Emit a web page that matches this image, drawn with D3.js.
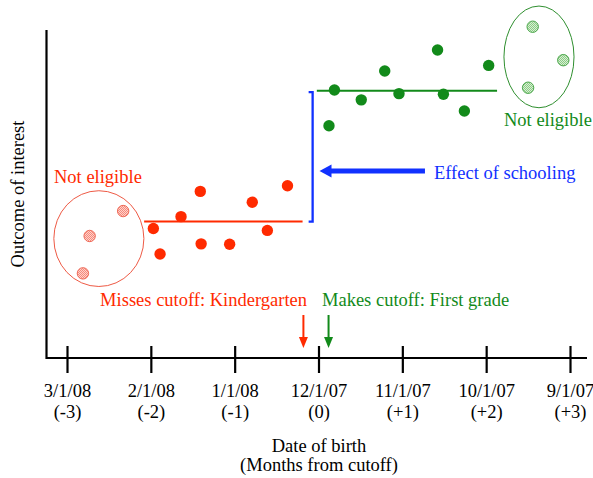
<!DOCTYPE html>
<html>
<head>
<meta charset="utf-8">
<script src="https://cdn.jsdelivr.net/npm/d3@7/dist/d3.min.js"></script>
<style>
  html, body { margin: 0; padding: 0; background: #ffffff; }
  svg { display: block; }
  text { font-family: "Liberation Serif", "Times New Roman", serif; font-size: 18.5px; }
</style>
</head>
<body>
<svg id="chart" width="593" height="478"></svg>
<script>
// ---- Data (months from cutoff, outcome value) ----
const monthTicks = [-3, -2, -1, 0, 1, 2, 3];
const dateLabels = ["3/1/08", "2/1/08", "1/1/08", "12/1/07", "11/1/07", "10/1/07", "9/1/07"];
const offsetLabels = ["(-3)", "(-2)", "(-1)", "(0)", "(+1)", "(+2)", "(+3)"];

// Kindergarten (missed cutoff) – eligible observations
const redMonths = [-1.97, -1.89, -1.64, -1.41, -1.40, -1.06, -0.79, -0.61, -0.37];
const redValues = [39.5, 31.7, 43.1, 50.8, 34.8, 34.7, 47.5, 38.9, 52.5];
// Kindergarten – not eligible
const redOutMonths = [-2.33, -2.73, -2.81];
const redOutValues = [44.8, 37.2, 25.8];
const redMean = 41.6;
const redSpan = [-2.08, -0.19];

// First grade (made cutoff) – eligible observations
const greenMonths = [0.125, 0.19, 0.51, 0.79, 0.96, 1.42, 1.49, 1.74, 2.03];
const greenValues = [70.8, 81.7, 78.7, 87.5, 80.6, 93.9, 80.4, 75.3, 89.2];
// First grade – not eligible
const greenOutMonths = [2.555, 2.92, 2.50];
const greenOutValues = [101.0, 90.8, 82.4];
const greenMean = 81.5;
const greenSpan = [-0.02, 2.13];

// Annotation ellipses: [centerMonth, centerValue, radiusMonths, radiusValue]
const redEllipse = [-2.62, 36.4, 0.537, 14.6];
const greenEllipse = [2.63, 91.8, 0.418, 15.5];

// Effect of schooling arrow (month from, month to, value)
const effectArrow = [1.27, 0.012, 57.0];
const bracketMonth = -0.07;

const RED = "#ff2a00", GREEN = "#128a1a", BLUE = "#1131ff";

// ---- Scales ----
const svg = d3.select("#chart");
const x = d3.scaleLinear().domain([-3, 3]).range([67, 570]);
const y = d3.scaleLinear().domain([0, 100]).range([358, 30]);

// ---- Patterns for hatched points ----
const defs = svg.append("defs");
function hatch(id, bg, fg) {
  const p = defs.append("pattern").attr("id", id).attr("patternUnits", "userSpaceOnUse")
    .attr("width", 2).attr("height", 2);
  p.append("rect").attr("width", 2).attr("height", 2).attr("fill", bg);
  p.append("rect").attr("width", 1).attr("height", 1).attr("fill", fg);
  p.append("rect").attr("x", 1).attr("y", 1).attr("width", 1).attr("height", 1).attr("fill", fg);
}
hatch("hatchRed", "#ffd2cb", "#f58a7c");
hatch("hatchGreen", "#d8efd4", "#8ccc86");

// ---- Axes ----
svg.append("line").attr("x1", 46.5).attr("x2", 46.5).attr("y1", y(100)).attr("y2", y(0) + 1)
  .attr("stroke", "#000").attr("stroke-width", 2.2);
svg.append("line").attr("x1", 46).attr("x2", 587).attr("y1", y(0)).attr("y2", y(0))
  .attr("stroke", "#000").attr("stroke-width", 2.2);

const xAxis = svg.append("g").attr("transform", `translate(0,${y(0)})`)
  .call(d3.axisBottom(x).tickValues(monthTicks).tickSize(15).tickFormat(""));
xAxis.select(".domain").remove();
xAxis.selectAll(".tick line").attr("y1", -12).attr("stroke", "#000").attr("stroke-width", 2.2);
xAxis.selectAll(".tick").each(function (d, i) {
  const g = d3.select(this);
  g.append("text").attr("y", 39).attr("text-anchor", "middle").attr("fill", "#000").text(dateLabels[i]);
  g.append("text").attr("y", 60).attr("text-anchor", "middle").attr("fill", "#000").text(offsetLabels[i]);
});

svg.append("text").attr("x", 319).attr("y", 452).attr("text-anchor", "middle").text("Date of birth");
svg.append("text").attr("x", 319).attr("y", 471).attr("text-anchor", "middle").text("(Months from cutoff)");
svg.append("text").attr("transform", "translate(24,194) rotate(-90)").attr("text-anchor", "middle")
  .text("Outcome of interest");

// ---- Ellipses ----
function ellipse(e, color) {
  svg.append("ellipse").attr("cx", x(e[0])).attr("cy", y(e[1]))
    .attr("rx", x(e[2]) - x(0)).attr("ry", y(0) - y(e[3]))
    .attr("fill", "none").attr("stroke", color).attr("stroke-width", 1);
}
ellipse(redEllipse, "#ee5a45");
ellipse(greenEllipse, "#2f8f2f");

// ---- Mean lines ----
svg.append("line").attr("x1", x(redSpan[0])).attr("x2", x(redSpan[1]))
  .attr("y1", y(redMean)).attr("y2", y(redMean)).attr("stroke", RED).attr("stroke-width", 2);
svg.append("line").attr("x1", x(greenSpan[0])).attr("x2", x(greenSpan[1]))
  .attr("y1", y(greenMean)).attr("y2", y(greenMean)).attr("stroke", GREEN).attr("stroke-width", 2);

// ---- Bracket (effect size) ----
const bx = x(bracketMonth);
svg.append("path")
  .attr("d", `M${bx - 4},${y(greenMean) + 1.5}H${bx}V${y(redMean)}H${bx - 4}`)
  .attr("fill", "none").attr("stroke", BLUE).attr("stroke-width", 2.3);

// ---- Points ----
function dots(ms, vs, fill, stroke) {
  svg.append("g").selectAll("circle").data(ms).join("circle")
    .attr("cx", d => x(d)).attr("cy", (d, i) => y(vs[i])).attr("r", 5.7)
    .attr("fill", fill).attr("stroke", stroke || "none").attr("stroke-width", 1);
}
dots(redMonths, redValues, RED);
dots(greenMonths, greenValues, GREEN);
dots(redOutMonths, redOutValues, "url(#hatchRed)", "#ef6a58");
dots(greenOutMonths, greenOutValues, "url(#hatchGreen)", "#4aa64a");

// ---- Effect of schooling arrow ----
const ay = y(effectArrow[2]);
const ax0 = x(effectArrow[0]), ax1 = x(effectArrow[1]);
svg.append("line").attr("x1", ax0).attr("x2", ax1 + 10).attr("y1", ay).attr("y2", ay)
  .attr("stroke", BLUE).attr("stroke-width", 5);
svg.append("path").attr("d", `M${ax1},${ay}L${ax1 + 12},${ay - 6.5}L${ax1 + 12},${ay + 6.5}Z`).attr("fill", BLUE);
svg.append("text").attr("x", ax0 + 9).attr("y", ay + 8).attr("fill", BLUE).text("Effect of schooling");

// ---- Not eligible labels ----
svg.append("text").attr("x", 54).attr("y", 183).attr("fill", RED).text("Not eligible");
svg.append("text").attr("x", 504).attr("y", 126).attr("fill", GREEN).text("Not eligible");

// ---- Cutoff arrows ----
function downArrow(m, color) {
  const xx = x(m);
  svg.append("line").attr("x1", xx).attr("x2", xx).attr("y1", 315).attr("y2", 340)
    .attr("stroke", color).attr("stroke-width", 2);
  svg.append("path").attr("d", `M${xx},${348}L${xx - 4.5},${337}L${xx + 4.5},${337}Z`).attr("fill", color);
}
downArrow(-0.18, RED);
downArrow(0.12, GREEN);
svg.append("text").attr("x", 307).attr("y", 306).attr("text-anchor", "end").attr("fill", RED)
  .text("Misses cutoff: Kindergarten");
svg.append("text").attr("x", 322).attr("y", 306).attr("fill", GREEN).text("Makes cutoff: First grade");
</script>
</body>
</html>
